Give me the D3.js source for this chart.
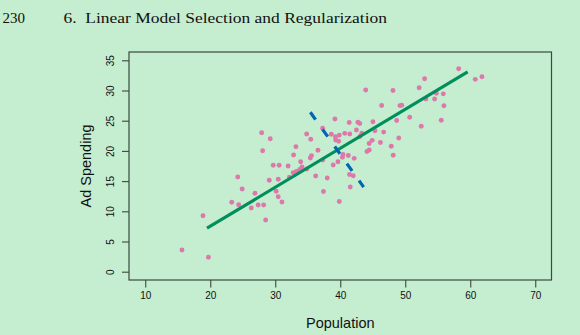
<!DOCTYPE html>
<html><head><meta charset="utf-8">
<script src="https://cdn.jsdelivr.net/npm/d3@7"></script>
<style>
html,body{margin:0;padding:0;background:#c5edcf;}
svg{display:block;}
</style></head>
<body>
<script>
// Data: Population vs Ad Spending
const population = [15.65,19.72,18.88,24.23,24.91,23.31,24.37,26.88,26.31,27.37,28.22,28.52,29.08,30.46,30.14,30.46,31.03,32.18,32.77,36.22,34.86,29.69,30.6,31.98,34.11,33.77,33.26,38.0,38.92,39.65,40.42,40.34,41.23,42.14,41.42,42.0,41.54,37.42,39.85,37.31,33.91,35.4,35.58,32.82,33.18,36.57,34.83,35.46,37.29,38.62,39.26,39.85,39.29,39.75,40.69,41.46,42.49,43.31,43.03,39.18,41.38,42.72,43.0,45.03,45.34,46.68,44.91,44.45,46.18,44.11,44.46,47.85,48.15,49.0,48.68,50.68,52.46,55.54,46.37,49.18,49.45,55.95,53.18,54.52,54.78,55.85,52.14,48.11,43.92,52.98,58.22,60.77,61.8,27.91,29.23,28.06];
const adSpending = [3.59,2.38,9.27,15.68,13.69,11.49,11.09,13.0,10.55,11.04,11.04,8.56,15.13,15.31,13.31,12.42,11.54,15.63,16.39,15.84,17.0,17.62,17.62,17.5,17.33,16.92,16.59,15.51,17.67,18.21,19.4,18.94,19.24,18.77,16.09,15.88,14.02,13.28,11.62,18.49,18.21,18.82,19.22,19.32,20.7,20.1,22.8,21.94,23.74,22.75,22.35,22.58,21.8,21.59,22.91,22.8,23.46,22.93,22.38,25.28,24.7,24.74,24.54,24.82,23.33,23.11,21.75,21.23,21.39,19.9,20.15,20.76,19.27,22.14,25.03,25.58,24.07,25.08,27.52,27.5,27.55,27.47,28.59,28.59,29.55,29.45,30.46,30.0,30.08,31.95,33.59,31.85,32.28,23.01,22.02,20.03];
// Fitted line (green) and dashed perpendicular segment (blue), endpoints
const fitLineX = [19.5, 59.6];
const fitLineY = [7.2, 33.1];
const perpLineX = [35.4, 43.6];
const perpLineY = [26.4, 14.0];
const xTicks = [10,20,30,40,50,60,70];
const yTicks = [0,5,10,15,20,25,30,35];
const pageNumber = "230";
const chapterTitle = "6.  Linear Model Selection and Regularization";
const xTitle = "Population";
const yTitle = "Ad Spending";

const W = 580, H = 335;
const svg = d3.select("body").append("svg").attr("width", W).attr("height", H);
svg.append("rect").attr("width", W).attr("height", H).attr("fill", "#c5edcf");

// header
svg.append("text").attr("x", 2.5).attr("y", 22.5)
  .attr("font-family", "'Liberation Serif', 'DejaVu Serif', serif").attr("font-size", 15.5)
  .attr("fill", "#111").attr("textLength", 22.5).attr("lengthAdjust", "spacingAndGlyphs")
  .text(pageNumber);
svg.append("text").attr("x", 63.5).attr("y", 22.5)
  .attr("font-family", "'Liberation Serif', 'DejaVu Serif', serif").attr("font-size", 15.5)
  .attr("fill", "#111").attr("textLength", 323.5).attr("lengthAdjust", "spacingAndGlyphs")
  .style("white-space", "pre")
  .text(chapterTitle);

const L = 129, R = 551.5, T = 52, B = 280;
const x = d3.scaleLinear().domain([7.5, 72.5]).range([L, R]);
const y = d3.scaleLinear().domain([-1.375, 36.375]).range([B, T]);

// points
const pts = population.map((p, i) => [p, adSpending[i]]);
svg.append("g").selectAll("circle").data(pts).join("circle")
  .attr("cx", d => x(d[0])).attr("cy", d => y(d[1])).attr("r", 2.45)
  .attr("fill", "#dd78aa");

// green fit line
svg.append("line")
  .attr("x1", x(fitLineX[0])).attr("y1", y(fitLineY[0]))
  .attr("x2", x(fitLineX[1])).attr("y2", y(fitLineY[1]))
  .attr("stroke", "#008f5c").attr("stroke-width", 3.2);

// blue dashed line
svg.append("line")
  .attr("x1", x(perpLineX[0])).attr("y1", y(perpLineY[0]))
  .attr("x2", x(perpLineX[1])).attr("y2", y(perpLineY[1]))
  .attr("stroke", "#0066b4").attr("stroke-width", 3.2)
  .attr("stroke-dasharray", "9,12");

// box
svg.append("rect").attr("x", L).attr("y", T).attr("width", R - L).attr("height", B - T)
  .attr("fill", "none").attr("stroke", "#3a4a3e").attr("stroke-width", 1.2);

// x axis
const gx = svg.append("g").attr("transform", `translate(0,${B})`)
  .call(d3.axisBottom(x).tickValues(xTicks).tickSize(7.5).tickPadding(4).tickSizeOuter(0));
gx.select(".domain").remove();
gx.selectAll("line").attr("stroke", "#3a4a3e").attr("stroke-width", 1.1);
gx.selectAll("text").attr("font-family", "'Liberation Sans', Arial, sans-serif")
  .attr("font-size", 10).attr("fill", "#111");

// y axis
const gy = svg.append("g").attr("transform", `translate(${L},0)`)
  .call(d3.axisLeft(y).tickValues(yTicks).tickSize(7).tickSizeOuter(0));
gy.select(".domain").remove();
gy.selectAll("line").attr("stroke", "#3a4a3e").attr("stroke-width", 1.1);
gy.selectAll("text")
  .attr("font-family", "'Liberation Sans', Arial, sans-serif").attr("font-size", 10)
  .attr("fill", "#111").attr("text-anchor", "middle").attr("dy", null)
  .attr("x", null).attr("transform", "translate(-14.7,0) rotate(-90)").attr("y", 0);

// axis titles
svg.append("text").attr("x", x(40)).attr("y", 327.5).attr("text-anchor", "middle")
  .attr("font-family", "'Liberation Sans', Arial, sans-serif").attr("font-size", 14.5)
  .attr("fill", "#111").text(xTitle);
svg.append("text").attr("transform", `translate(90.5,${(T + B) / 2}) rotate(-90)`)
  .attr("text-anchor", "middle")
  .attr("font-family", "'Liberation Sans', Arial, sans-serif").attr("font-size", 14.5)
  .attr("fill", "#111").text(yTitle);
</script>
</body></html>
